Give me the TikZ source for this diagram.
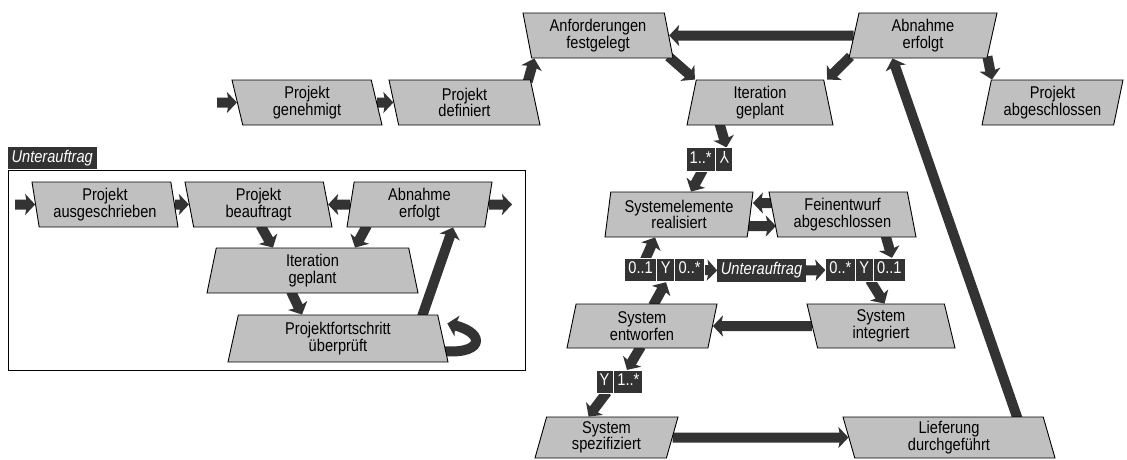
\documentclass[tikz,border=0pt]{standalone}
\usepackage{fontspec}
\setmainfont{Liberation Sans}[FakeStretch=0.86]
\usetikzlibrary{shapes.geometric,shapes.multipart,arrows.meta,calc,backgrounds}

\definecolor{boxgray}{HTML}{C0C0C0}
\definecolor{flowgray}{HTML}{333333}
\newcommand{\mstrut}{\rule[-4.5pt]{0pt}{16pt}}

\tikzset{
  evt/.style={trapezium, draw=black, line width=0.9pt, fill=boxgray, inner sep=0pt,
    align=center, font=\fontsize{17}{16.5}\selectfont,
    trapezium stretches=true, trapezium stretches body=true, minimum height=45pt},
  leanl/.style={evt, trapezium left angle={180-#1}, trapezium right angle={#1}},
  leanr/.style={evt, trapezium left angle={#1}, trapezium right angle={180-#1}},
  narrow/.style={evt, trapezium left angle={180-#1}, trapezium right angle={180-#1}},
  flow/.style={draw=flowgray, line width=10pt, -{Stealth[length=10pt,width=21pt,inset=2pt]}},
  mult/.style={rectangle split, rectangle split horizontal, rectangle split parts=#1,
    fill=flowgray, draw=white, line width=1pt, text=white, inner xsep=3.5pt, inner ysep=3.5pt,
    font=\fontsize{17}{15}\selectfont},
  tag/.style={fill=flowgray, text=white, inner xsep=3.5pt, inner ysep=3.5pt,
    font=\fontsize{17}{15}\selectfont\itshape}
}

\begin{document}
\begin{tikzpicture}[x=1pt, y=-1pt]
\useasboundingbox (0,0) rectangle (1127,459);

%%%%%%%%%%
% Main flow (top)
%%%%%%%%%%
\node[leanl=71.6, minimum width=150pt] (gen) at (307,102.5) {Projekt\\genehmigt};
\node[leanl=71.6, minimum width=151pt] (def) at (464.5,102.5) {Projekt\\definiert};
\node[leanl=75, minimum width=150pt] (anf) at (598,35.5) {Anforderungen\\festgelegt};
\node[leanr=72.8, minimum width=148pt] (abn) at (923,35.5) {Abnahme\\erfolgt};
\node[narrow=106, minimum width=146pt] (itg) at (760,102.5) {Iteration\\geplant};
\node[leanr=73.9, minimum width=141pt] (abg) at (1052.5,102.5) {Projekt\\abgeschlossen};

%%%%%%%%%%
% System level
%%%%%%%%%%
\node[leanr=78.7, minimum width=148pt] (sre) at (679,214.5) {Systemelemente\\realisiert};
\node[leanl=75, minimum width=147pt] (fein) at (842.5,214.5) {Feinentwurf\\abgeschlossen};
\node[leanr=72.3, minimum width=150pt, minimum height=44pt] (sent) at (642,326) {System\\entworfen};
\node[leanl=71.6, minimum width=148pt, minimum height=44pt] (sint) at (881,326) {System\\integriert};
\node[leanr=70, minimum width=143pt, minimum height=41pt] (sspe) at (606.5,437.5) {System\\spezifiziert};
\node[leanl=70, minimum width=212pt, minimum height=41pt] (lief) at (949,437.5) {Lieferung\\durchgeführt};

% multiplicities
\node[mult=2] (lm1) at (709.5,159.5) {\mstrut 1..*\nodepart{two}\mstrut\rotatebox[origin=c]{180}{Y}};
\node[mult=3] (lsl) at (664.5,270) {\mstrut 0..1\nodepart{two}\mstrut Y\nodepart{three}\mstrut 0..*};
\node[tag] (luu) at (761.5,270.5) {\mstrut Unterauftrag};
\node[mult=3] (lsr) at (865.5,270) {\mstrut 0..*\nodepart{two}\mstrut Y\nodepart{three}\mstrut 0..1};
\node[mult=2] (ly) at (619.5,382) {\mstrut Y\nodepart{two}\mstrut 1..*};

%%%%%%%%%%
% Unterauftrag (sub flow)
%%%%%%%%%%
\node[draw, line width=0.9pt, minimum width=517pt, minimum height=200pt, inner sep=0pt] (sub) at (266.5,270) {};
\node[tag, anchor=south west, minimum width=89pt, minimum height=22pt, inner ysep=0pt] (subtab) at (sub.north west) {Unterauftrag};
\node[leanl=77.5, minimum width=146pt] (sausg) at (105,204.5) {Projekt\\ausgeschrieben};
\node[leanl=75, minimum width=147pt] (sbea) at (258.5,204.5) {Projekt\\beauftragt};
\node[leanr=77.5, minimum width=145pt] (sabn) at (419.5,204.5) {Abnahme\\erfolgt};
\node[narrow=106, minimum width=211pt] (sitg) at (312.5,270.5) {Iteration\\geplant};
\node[narrow=107.7, minimum width=220pt, minimum height=47pt] (spf) at (338,338.5) {Projektfortschritt\\überprüft};

\coordinate (start) at (217,102.5);
\coordinate (subin) at (15,204.5);
\coordinate (subout) at (512,204.5);

%%%%%%%%%%
% Arrows (background)
%%%%%%%%%%
\begin{scope}[on background layer]
\foreach \a/\b in {start/gen.west, gen.east/def.west, abn.west/anf.east,
  lsl.east/luu.west, luu.east/lsr.west, sint.west/sent.east, sspe.east/lief.west,
  subin/sausg.west, sausg.east/sbea.west, sabn.west/sbea.east, sabn.east/subout} {
  \draw[flow] (\a) -- (\b);
}
\draw[flow] ($(def.top right corner)+(-3,2)$) -- ($(anf.bottom left corner)+(3,0)$);
\draw[flow] ($(anf.bottom right corner)+(-5,-2)$) -- ($(itg.top left corner)+(-1,0)$);
\draw[flow] ($(abn.bottom left corner)+(2,-2)$) -- ($(itg.top right corner)+(3,0)$);
\draw[flow] ($(abn.bottom right corner)+(0,-2)$) -- ($(abg.top left corner)+(1,0)$);
\draw[flow] ($(lief.top right corner)+(-26,2)$) -- ($(abn.bottom left corner)+(44,0)$);
\draw[flow] ($(itg.bottom left corner)+(33,-2)$) -- ($(lm1.north)+(17,0)$);
\draw[flow] ($(lm1.south)+(-6.5,-2)$) -- ($(sre.north)+(12,0)$);
\draw[flow] ($(fein.west)+(-1,-11.5)$) -- ($(sre.east)+(2.3,-11.5)$);
\draw[flow] ($(sre.east)+(-4,11.5)$) -- ($(fein.west)+(3,11.5)$);
\draw[flow] ($(fein.bottom right corner)+(-31,-2)$) -- ($(lsr.north)+(26.5,0)$);
\draw[flow] ($(lsr.south)+(4.5,-2)$) -- ($(sint.north)+(3.5,0)$);
\draw[flow] ($(sent.north)+(11,2)$) -- ($(lsl.south)+(1.5,0)$);
\draw[flow] ($(lsl.north)+(-19.5,2)$) -- ($(sre.south)+(-24,0)$);
\draw[flow] ($(sent.south)+(-1,-2)$) -- ($(ly.north)+(7.5,0)$);
\draw[flow] ($(ly.south)+(-12.5,-2)$) -- ($(sspe.north)+(-18,0)$);
% sub flow
\draw[flow] ($(sbea.south)+(2,-2)$) -- ($(sitg.north)+(-39.5,0)$);
\draw[flow] ($(sabn.south)+(-52.5,-2)$) -- ($(sitg.north)+(42.5,0)$);
\draw[flow] ($(sitg.south)+(-21.5,-2)$) -- ($(spf.north)+(-36,0)$);
\draw[flow] ($(spf.north)+(84,2)$) -- ($(sabn.south)+(33.5,0)$);
\draw[flow] ($(spf.east)+(-6,12)$) .. controls +(46,6) and +(40,10) .. ($(spf.east)+(4,-15)$);
\end{scope}

\end{tikzpicture}
\end{document}
